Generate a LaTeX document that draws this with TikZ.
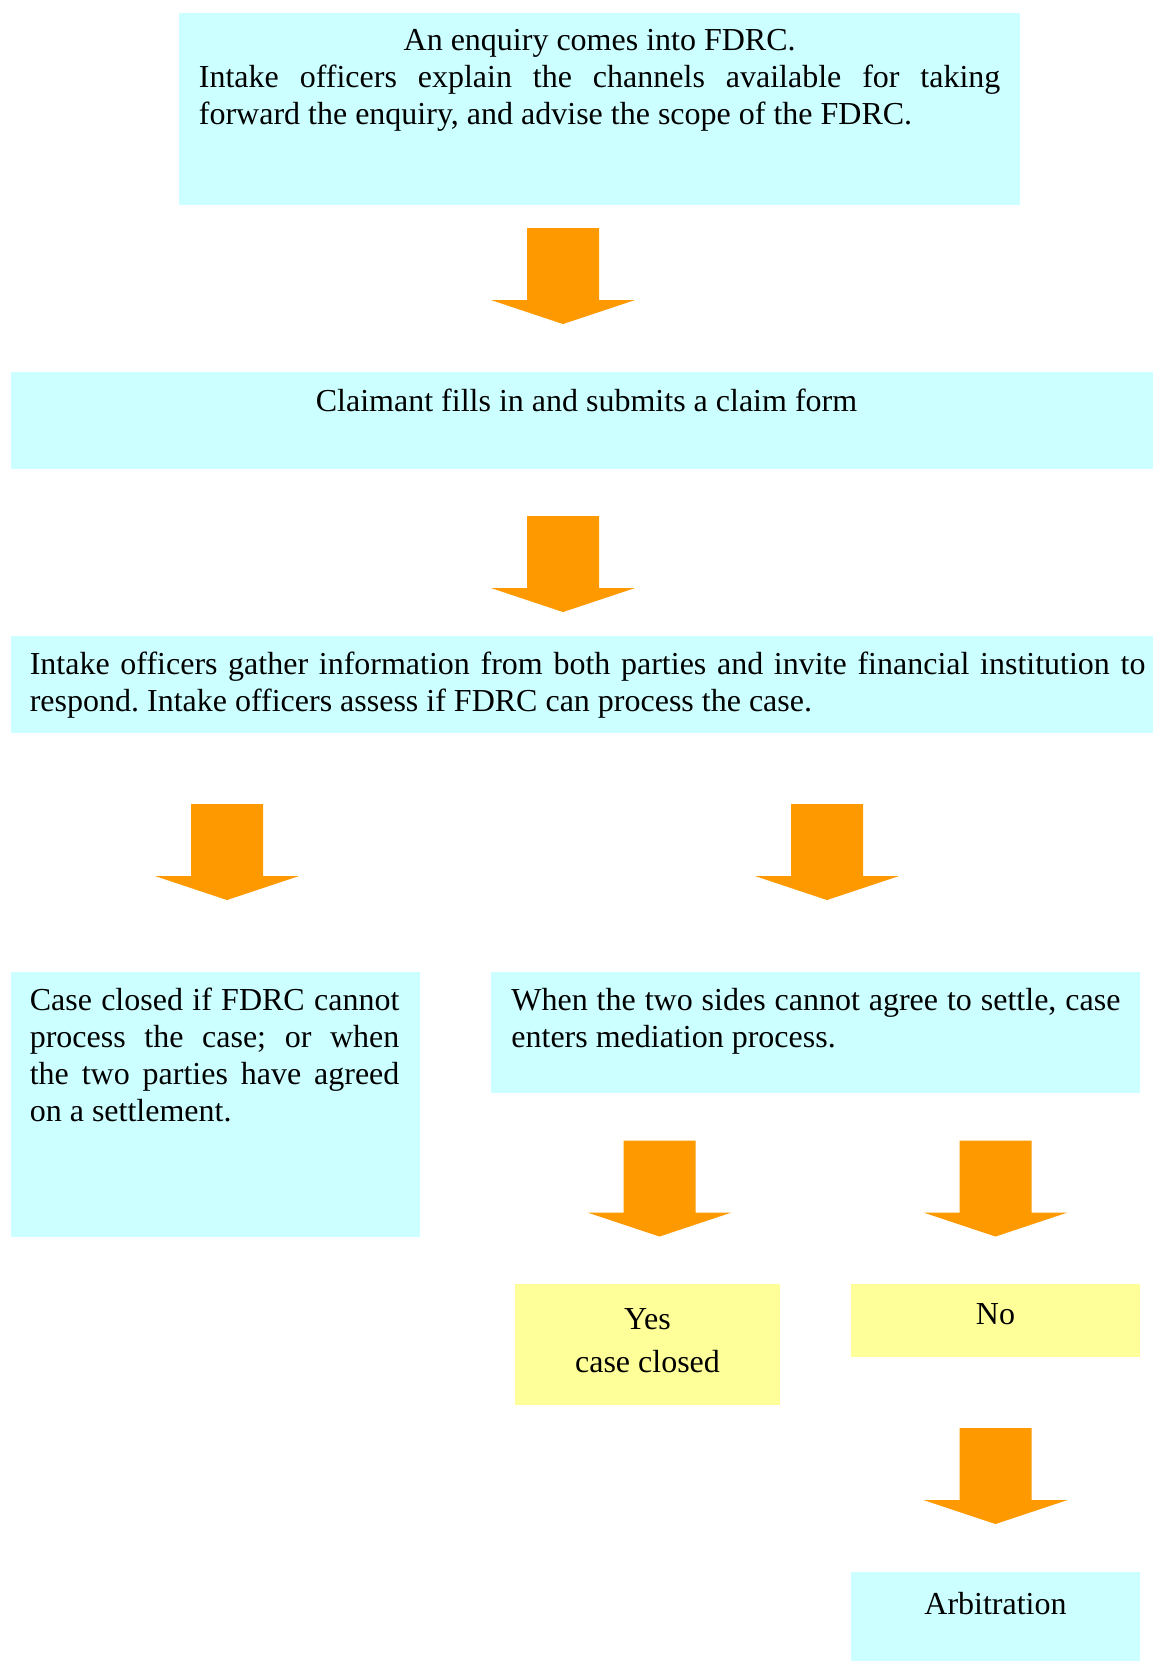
\documentclass[tikz,border=0pt]{standalone}
\usepackage{fontspec}
\setmainfont{Liberation Serif}
\usetikzlibrary{fit}
\frenchspacing
\definecolor{boxcyan}{HTML}{CCFFFF}
\definecolor{boxyellow}{HTML}{FFFF99}
\definecolor{arroworange}{HTML}{FF9900}
\tikzset{
  cyanbox/.style={fill=boxcyan, draw=none, inner sep=0pt},
  yellowbox/.style={fill=boxyellow, draw=none, inner sep=0pt},
  txt/.style={font=\fontsize{16}{18.5}\selectfont\frenchspacing, inner sep=0pt, text=black},
  blockarrow/.pic={
    \fill[arroworange] (-36,0) -- (36,0) -- (36,72) -- (72,72) -- (0,96)
      -- (-72,72) -- (-36,72) -- cycle;
  }
}
\begin{document}
\begin{tikzpicture}[x=0.5pt,y=-0.5pt]
\useasboundingbox (0,0) rectangle (1153,1661);

% boxes
\node[cyanbox, fit={(179,12.7) (1020,204.5)}] (b1) {};
\node[cyanbox, fit={(11,372) (1153,469)}] (b2) {};
\node[cyanbox, fit={(11,636) (1153,733)}] (b3) {};
\node[cyanbox, fit={(11,972) (420,1237)}] (b4) {};
\node[cyanbox, fit={(491,972) (1140,1093)}] (b5) {};
\node[yellowbox, fit={(515,1284) (780,1405)}] (b6) {};
\node[yellowbox, fit={(851,1284) (1140,1357)}] (b7) {};
\node[cyanbox, fit={(851,1572) (1140,1661)}] (b8) {};

% texts
\node[txt, anchor=base west, text width=400.75pt, align=justify] (t1) at (198.5,50)
  {{\centering An enquiry comes into FDRC.\par}Intake officers explain the channels available for taking\linebreak forward the enquiry, and advise the scope of the FDRC.};
\node[txt, anchor=base] (t2) at (586.5,411) {Claimant fills in and submits a claim form};
\node[txt, anchor=base west, text width=557.8pt, align=justify] (t3) at (29.4,674)
  {Intake officers gather information from both parties and invite financial institution to\linebreak respond. Intake officers assess if FDRC can process the case.};
\node[txt, anchor=base west, text width=184.8pt, align=justify] (t4) at (29.4,1010)
  {Case closed if FDRC cannot\linebreak process the case; or when\linebreak the two parties have agreed\linebreak on a settlement.};
\node[txt, anchor=base west, text width=304.5pt, align=justify] (t5) at (511,1010)
  {When the two sides cannot agree to settle, case\linebreak enters mediation process.};
\node[txt, anchor=base] (t6a) at (647.5,1329) {Yes};
\node[txt, anchor=base] (t6b) at (647.5,1372) {case closed};
\node[txt, anchor=base] (t7) at (995.5,1324) {No};
\node[txt, anchor=base] (t8) at (995.5,1614) {Arbitration};

% block arrows
\pic at (563,228) {blockarrow};
\pic at (563,516) {blockarrow};
\pic at (227,804) {blockarrow};
\pic at (827,804) {blockarrow};
\pic at (659.5,1140.5) {blockarrow};
\pic at (995.5,1140.5) {blockarrow};
\pic at (995.5,1428) {blockarrow};
\end{tikzpicture}
\end{document}
